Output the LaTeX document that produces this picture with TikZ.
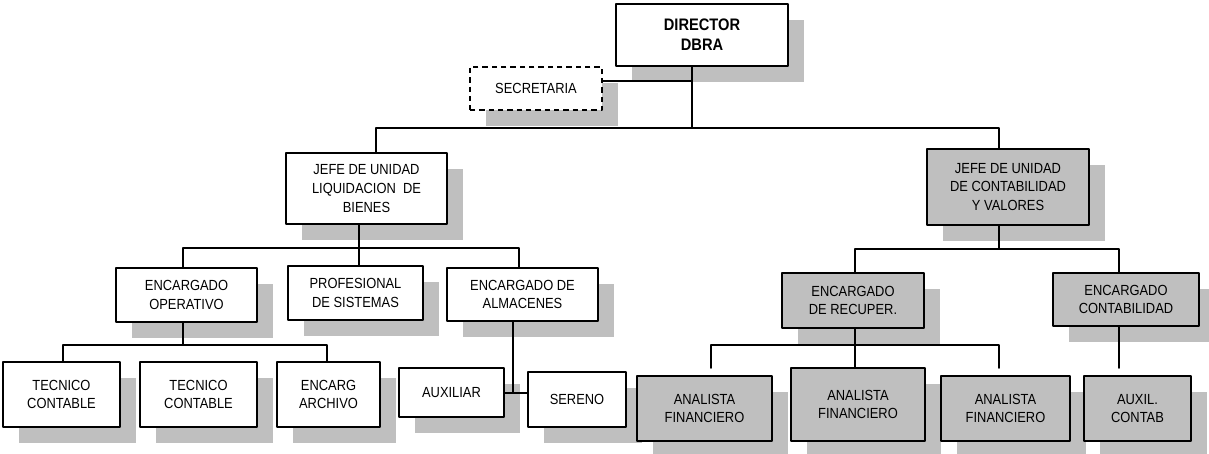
\documentclass[tikz,border=0pt]{standalone}
\usepackage{fontspec}
\setmainfont{Liberation Sans}[FakeStretch=0.88]
\usetikzlibrary{shadows}
\definecolor{cqcqcq}{rgb}{0.75,0.75,0.75}
\tikzset{
	box/.style={draw,line width=1.3pt,fill=white,align=center,inner sep=0pt,
		general shadow={fill=cqcqcq,shadow xshift=12pt,shadow yshift=-12pt},
		font=\fontsize{11}{13.9}\selectfont},
	graybox/.style={box,fill=cqcqcq},
	sz/.style 2 args={minimum width=#1*0.75pt,minimum height=#2*0.75pt},
	conn/.style={line width=1.3pt}
}
\begin{document}
\begin{tikzpicture}[line cap=round,line join=round,x=0.75pt,y=-0.75pt]
	\useasboundingbox (0,0) rectangle (1209,453);
	% cajas
	\node[box,sz={172}{62},font=\bfseries\fontsize{12.5}{15}\selectfont] (dir) at (702,35) {DIRECTOR\\DBRA};
	\node[box,sz={132}{43},line cap=butt,dash pattern=on 4pt off 3pt] (sec) at (536,88.5) {SECRETARIA};
	\node[box,sz={161}{71}] (jliq) at (366.5,188.5) {JEFE DE UNIDAD\\LIQUIDACION\ \ DE\\BIENES};
	\node[graybox,sz={162}{76}] (jcon) at (1008,187) {JEFE DE UNIDAD\\DE CONTABILIDAD\\Y VALORES};
	\node[box,sz={141}{54}] (oper) at (186.5,295) {ENCARGADO\\OPERATIVO};
	\node[box,sz={135}{54}] (prof) at (355.5,293) {PROFESIONAL\\DE SISTEMAS};
	\node[box,sz={151}{53}] (alm) at (522.5,294.5) {ENCARGADO DE\\ALMACENES};
	\node[graybox,sz={142}{55}] (recu) at (853,300.5) {ENCARGADO\\DE RECUPER.};
	\node[graybox,sz={146}{53}] (econ) at (1126,299.5) {ENCARGADO\\CONTABILIDAD};
	\node[box,sz={117}{65}] (tec1) at (61.5,394.5) {TECNICO\\CONTABLE};
	\node[box,sz={117}{65}] (tec2) at (198.5,394.5) {TECNICO\\CONTABLE};
	\node[box,sz={103}{65}] (arch) at (328.5,394.5) {ENCARG\\ARCHIVO};
	\node[box,sz={105}{49}] (aux) at (451.5,392.5) {AUXILIAR};
	\node[box,sz={98}{55}] (ser) at (577,399.5) {SERENO};
	\node[graybox,sz={135}{65}] (af1) at (704.5,408.5) {ANALISTA\\FINANCIERO};
	\node[graybox,sz={134}{73}] (af2) at (858,404.5) {ANALISTA\\FINANCIERO};
	\node[graybox,sz={129}{65}] (af3) at (1005.5,408.5) {ANALISTA\\FINANCIERO};
	\node[graybox,sz={107}{65}] (auxc) at (1137.5,408.5) {AUXIL.\\CONTAB};
	% puntos de union
	\coordinate (s1) at (692,81);
	\coordinate (b1) at (692,128);
	\coordinate (bl) at (376,128);
	\coordinate (br) at (999,128);
	\coordinate (c0) at (183,248);
	\coordinate (c1) at (359,248);
	\coordinate (c2) at (519,248);
	\coordinate (d0) at (63,345);
	\coordinate (d1) at (183,345);
	\coordinate (d2) at (327,345);
	\coordinate (e1) at (513,393);
	\coordinate (f0) at (855,249);
	\coordinate (f1) at (999,249);
	\coordinate (f2) at (1119,249);
	\coordinate (g0) at (711,345);
	\coordinate (g1) at (855,345);
	\coordinate (g2) at (999,345);
	\coordinate (h0) at (711,368);
	\coordinate (h2) at (999,368);
	\coordinate (h3) at (1119,368);
	% lineas
	\draw [conn] (b1 |- dir.south)-- (b1);
	\draw [conn] (sec.east |- s1)-- (s1);
	\draw [conn] (bl |- jliq.north)-- (bl)-- (br)-- (br |- jcon.north);
	\draw [conn] (c1 |- jliq.south)-- (c1 |- prof.north);
	\draw [conn] (c0 |- oper.north)-- (c0)-- (c2)-- (c2 |- alm.north);
	\draw [conn] (d1 |- oper.south)-- (d1);
	\draw [conn] (d0 |- tec1.north)-- (d0)-- (d2)-- (d2 |- arch.north);
	\draw [conn] (e1 |- alm.south)-- (e1);
	\draw [conn] (aux.east |- e1)-- (ser.west |- e1);
	\draw [conn] (f1 |- jcon.south)-- (f1);
	\draw [conn] (f0 |- recu.north)-- (f0)-- (f2)-- (f2 |- econ.north);
	\draw [conn] (g1 |- recu.south)-- (g1 |- af2.north);
	\draw [conn] (h0)-- (g0)-- (g2)-- (h2);
	\draw [conn] (f2 |- econ.south)-- (h3);
\end{tikzpicture}
\end{document}
